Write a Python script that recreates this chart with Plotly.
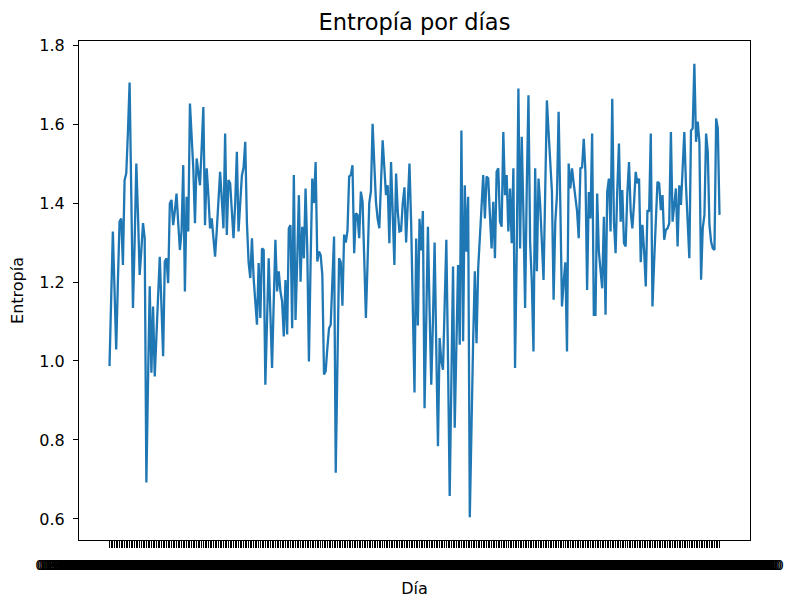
import pandas as pd
import plotly.graph_objects as go

# Daily entropy values (one per day of the year)
entropia = [
    0.987, 1.15, 1.328, 1.18, 1.029, 1.20, 1.353, 1.361, 1.243, 1.458,
    1.475, 1.58, 1.705, 1.42, 1.134, 1.30, 1.500, 1.37, 1.218, 1.28,
    1.349, 1.311, 0.692, 0.95, 1.189, 0.970, 1.138, 0.961, 1.071, 1.16,
    1.264, 1.14, 1.012, 1.252, 1.26, 1.197, 1.399, 1.408, 1.344, 1.38,
    1.424, 1.35, 1.281, 1.328, 1.496, 1.176, 1.416, 1.328, 1.652, 1.57,
    1.488, 1.349, 1.513, 1.479, 1.445, 1.54, 1.643, 1.344, 1.488, 1.42,
    1.336, 1.361, 1.31, 1.264, 1.33, 1.41, 1.479, 1.41, 1.336, 1.576,
    1.319, 1.458, 1.45, 1.38, 1.311, 1.40, 1.530, 1.328, 1.40, 1.47,
    1.49, 1.555, 1.35, 1.25, 1.210, 1.311, 1.21, 1.15, 1.092, 1.248,
    1.109, 1.285, 1.281, 0.940, 1.10, 1.260, 1.12, 0.982, 1.15, 1.307,
    1.176, 1.227, 1.176, 1.151, 1.062, 1.205, 1.067, 1.336, 1.344, 1.083,
    1.471, 1.104, 1.252, 1.42, 1.201, 1.34, 1.26, 1.437, 1.285, 0.999,
    1.25, 1.462, 1.40, 1.504, 1.252, 1.277, 1.268, 1.218, 0.966, 0.974,
    1.033, 1.083, 1.092, 1.21, 1.315, 0.717, 1.0, 1.26, 1.25, 1.14,
    1.32, 1.30, 1.33, 1.467, 1.471, 1.496, 1.273, 1.374, 1.37, 1.311,
    1.429, 1.403, 1.26, 1.109, 1.25, 1.40, 1.43, 1.601, 1.50, 1.403,
    1.36, 1.336, 1.45, 1.559, 1.49, 1.42, 1.445, 1.298, 1.504, 1.361,
    1.243, 1.475, 1.38, 1.328, 1.33, 1.40, 1.44, 1.30, 1.42, 1.50,
    1.35, 1.12, 0.92, 1.31, 1.09, 1.36, 1.28, 1.38, 0.88, 1.10,
    1.34, 1.13, 0.94, 1.10, 1.30, 1.03, 0.784, 1.058, 1.0, 0.978,
    1.15, 1.307, 1.0, 0.658, 0.95, 1.239, 0.831, 1.05, 1.243, 1.041,
    1.584, 1.05, 1.445, 1.277, 1.416, 0.604, 0.85, 1.05, 1.227, 1.045,
    1.235, 1.30, 1.39, 1.471, 1.361, 1.467, 1.462, 1.37, 1.285, 1.403,
    1.26, 1.479, 1.488, 1.353, 1.34, 1.58, 1.42, 1.471, 1.328, 1.437,
    1.298, 1.488, 0.982, 1.277, 1.690, 1.285, 1.568, 1.37, 1.134, 1.441,
    1.673, 1.30, 1.2, 1.024, 1.488, 1.227, 1.462, 1.395, 1.30, 1.205,
    1.43, 1.660, 1.58, 1.50, 1.43, 1.155, 1.35, 1.42, 1.631, 1.40,
    1.138, 1.2, 1.25, 1.024, 1.50, 1.437, 1.488, 1.45, 1.42, 1.38,
    1.311, 1.488, 1.49, 1.563, 1.479, 1.18, 1.428, 1.361, 1.576, 1.117,
    1.117, 1.424, 1.277, 1.23, 1.184, 1.365, 1.117, 1.429, 1.462, 1.328,
    1.664, 1.353, 1.273, 1.433, 1.551, 1.353, 1.433, 1.298, 1.29, 1.424,
    1.504, 1.378, 1.336, 1.40, 1.479, 1.45, 1.462, 1.25, 1.345, 1.28,
    1.189, 1.382, 1.378, 1.576, 1.138, 1.252, 1.378, 1.454, 1.45, 1.382,
    1.42, 1.307, 1.332, 1.336, 1.349, 1.58, 1.353, 1.391, 1.437, 1.29,
    1.445, 1.395, 1.479, 1.58, 1.445, 1.35, 1.26, 1.584, 1.589, 1.753,
    1.555, 1.606, 1.555, 1.206, 1.336, 1.37, 1.576, 1.53, 1.344, 1.302,
    1.285, 1.281, 1.614, 1.589, 1.37,
]

# Day labels, one per value
dias = list(pd.date_range("2019-01-01", periods=len(entropia), freq="D")
            .strftime("%d-%m-%Y %H:%M:%S"))
posiciones = list(range(len(entropia)))

FONT = "DejaVu Sans"

fig = go.Figure(
    go.Scatter(
        x=posiciones,
        y=entropia,
        mode="lines",
        line=dict(color="#1f77b4", width=2.3),
        showlegend=False,
    )
)

n = len(entropia)
pad_x = (n - 1) * 0.05
ymin, ymax = min(entropia), max(entropia)
pad_y = (ymax - ymin) * 0.05

fig.update_layout(
    width=785,
    height=598,
    margin=dict(l=79, r=35, t=41, b=58),
    paper_bgcolor="white",
    plot_bgcolor="white",
    font=dict(family=FONT, size=16, color="black"),
    title=dict(
        text="Entropía por días",
        x=0.5, xref="paper", xanchor="center",
        y=1 - 22 / 598, yref="container", yanchor="middle",
        font=dict(family=FONT, size=22.5, color="black"),
    ),
    xaxis=dict(
        range=[-pad_x, n - 1 + pad_x],
        tickmode="array",
        tickvals=posiciones,
        ticktext=dias,
        tickangle=0,
        ticks="outside",
        ticklen=7,
        tickwidth=1,
        tickcolor="black",
        ticklabelstandoff=5,
        tickfont=dict(family=FONT, size=14, color="black"),
        showline=True, linecolor="black", linewidth=1, mirror=True,
        showgrid=False, zeroline=False,
        automargin=False,
        title=dict(text="Día", standoff=12, font=dict(family=FONT, size=16, color="black")),
    ),
    yaxis=dict(
        range=[ymin - pad_y, ymax + pad_y],
        tick0=0.6, dtick=0.2,
        tickformat=".1f",
        ticks="outside",
        ticklen=5,
        tickwidth=1,
        tickcolor="black",
        ticklabelstandoff=5,
        tickfont=dict(family=FONT, size=16, color="black"),
        showline=True, linecolor="black", linewidth=1, mirror=True,
        showgrid=False, zeroline=False,
        automargin=False,
        title=dict(text="Entropía", standoff=11, font=dict(family=FONT, size=16, color="black")),
    ),
)

fig.write_html("out.html")
